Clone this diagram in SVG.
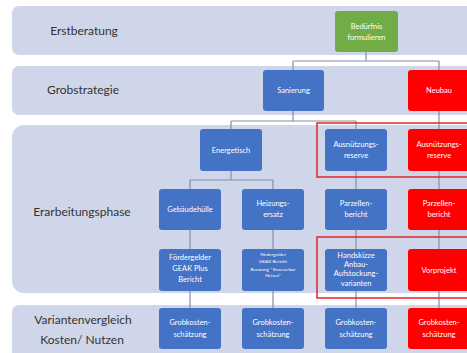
<svg xmlns="http://www.w3.org/2000/svg" width="467" height="353" viewBox="0 0 467 353">
<style>
.band{fill:#D0D6E9}
.lbl{font-family:Lato,"Open Sans","Liberation Sans",sans-serif;font-size:12px;fill:#333;text-anchor:middle}
.b{fill:#4472C4}
.r{fill:#FF0000}
.g{fill:#70AD47}
.t{font-family:Lato,"Open Sans","Liberation Sans",sans-serif;font-size:7.5px;fill:#fff;text-anchor:middle}
.ts{font-family:Lato,"Open Sans","Liberation Sans",sans-serif;font-size:4.6px;fill:#fff;text-anchor:middle}
.c{fill:none;stroke:#8090AA;stroke-width:1.2}
.hl{fill:none;stroke:#E3262B;stroke-width:1.5}
</style>
<rect width="467" height="353" fill="#fff"/>
<g id="bands">
<rect class="band" x="12" y="6" width="470" height="49" rx="7"/>
<rect class="band" x="12" y="66" width="470" height="49" rx="7"/>
<rect class="band" x="12" y="125" width="470" height="168" rx="12"/>
<rect class="band" x="12" y="305" width="470" height="60" rx="7"/>
<text class="lbl" x="84" y="35">Erstberatung</text>
<text class="lbl" x="83" y="94">Grobstrategie</text>
<text class="lbl" x="82" y="216">Erarbeitungsphase</text>
<text class="lbl" x="83" y="324">Variantenvergleich</text>
<text class="lbl" x="82" y="344">Kosten/ Nutzen</text>
</g>
<g id="connectors">
<path class="c" d="M366 52V61M293 61H439M293 61V70M439 61V70"/>
<path class="c" d="M293 111V121M231 121H356M231 121V129M356 121V129M439 111V129"/>
<path class="c" d="M231 171V180M190 180H273M190 180V189M273 180V189M356 171V189M439 171V189"/>
<path class="c" d="M190 230V249M273 230V249M356 230V249M439 230V249"/>
<path class="c" d="M190 291V308M273 291V308M356 291V308M439 291V308"/>
</g>
<g id="n_beduerfnis"><rect class="g" x="335" y="11" width="63" height="41" rx="3"/><text class="t" x="366.5" y="29">Bedürfnis</text><text class="t" x="366.5" y="40">formulieren</text></g>
<g id="n_sanierung"><rect class="b" x="263" y="70" width="61" height="41" rx="3"/><text class="t" x="293.5" y="93">Sanierung</text></g>
<g id="n_neubau"><rect class="r" x="408" y="70" width="64" height="41" rx="3"/><text class="t" x="439" y="93">Neubau</text></g>
<g id="n_energetisch"><rect class="b" x="200" y="129" width="62" height="42" rx="3"/><text class="t" x="231" y="152.5">Energetisch</text></g>
<g id="n_ausn_b"><rect class="b" x="325" y="129" width="62" height="42" rx="3"/><text class="t" x="356" y="147">Ausnützungs-</text><text class="t" x="356" y="158">reserve</text></g>
<g id="n_ausn_r"><rect class="r" x="408" y="129" width="64" height="42" rx="3"/><text class="t" x="439" y="147">Ausnützungs-</text><text class="t" x="439" y="158">reserve</text></g>
<g id="n_gebaeude"><rect class="b" x="159" y="189" width="62" height="41" rx="3"/><text class="t" x="190" y="212">Gebäudehülle</text></g>
<g id="n_heizung"><rect class="b" x="242" y="189" width="62" height="41" rx="3"/><text class="t" x="273" y="206">Heizungs-</text><text class="t" x="273" y="217">ersatz</text></g>
<g id="n_parz_b"><rect class="b" x="325" y="189" width="62" height="41" rx="3"/><text class="t" x="356" y="206">Parzellen-</text><text class="t" x="356" y="217">bericht</text></g>
<g id="n_parz_r"><rect class="r" x="408" y="189" width="64" height="41" rx="3"/><text class="t" x="439" y="206">Parzellen-</text><text class="t" x="439" y="217">bericht</text></g>
<g id="n_foerder1"><rect class="b" x="159" y="249" width="62" height="42" rx="3"/><text class="t" x="190" y="260">Fördergelder</text><text class="t" x="190" y="271">GEAK Plus</text><text class="t" x="190" y="282">Bericht</text></g>
<g id="n_foerder2"><rect class="b" x="242" y="249" width="62" height="42" rx="3"/><text class="ts" x="273" y="255.5">Fördergelder</text><text class="ts" x="273" y="263">GEAK Bericht</text><text class="ts" x="273" y="270.5">Beratung " Erneuerbar</text><text class="ts" x="273" y="276.5">Heizen"</text></g>
<g id="n_handskizze"><rect class="b" x="325" y="249" width="62" height="42" rx="3"/><text class="t" x="356" y="258">Handskizze</text><text class="t" x="356" y="267">Anbau-</text><text class="t" x="356" y="276">Aufstockung-</text><text class="t" x="356" y="286">varianten</text></g>
<g id="n_vorprojekt"><rect class="r" x="408" y="249" width="64" height="42" rx="3"/><text class="t" x="439" y="272.5">Vorprojekt</text></g>
<g id="n_gk1"><rect class="b" x="159" y="308" width="62" height="41" rx="3"/><text class="t" x="190" y="325">Grobkosten-</text><text class="t" x="190" y="337">schätzung</text></g>
<g id="n_gk2"><rect class="b" x="242" y="308" width="62" height="41" rx="3"/><text class="t" x="273" y="325">Grobkosten-</text><text class="t" x="273" y="337">schätzung</text></g>
<g id="n_gk3"><rect class="b" x="325" y="308" width="62" height="41" rx="3"/><text class="t" x="356" y="325">Grobkosten-</text><text class="t" x="356" y="337">schätzung</text></g>
<g id="n_gk4"><rect class="r" x="408" y="308" width="64" height="41" rx="3"/><text class="t" x="439" y="325">Grobkosten-</text><text class="t" x="439" y="337">schätzung</text></g>
<g id="highlights">
<rect class="hl" x="317" y="123" width="160" height="54"/>
<rect class="hl" x="317" y="237" width="160" height="61"/>
</g>
</svg>
